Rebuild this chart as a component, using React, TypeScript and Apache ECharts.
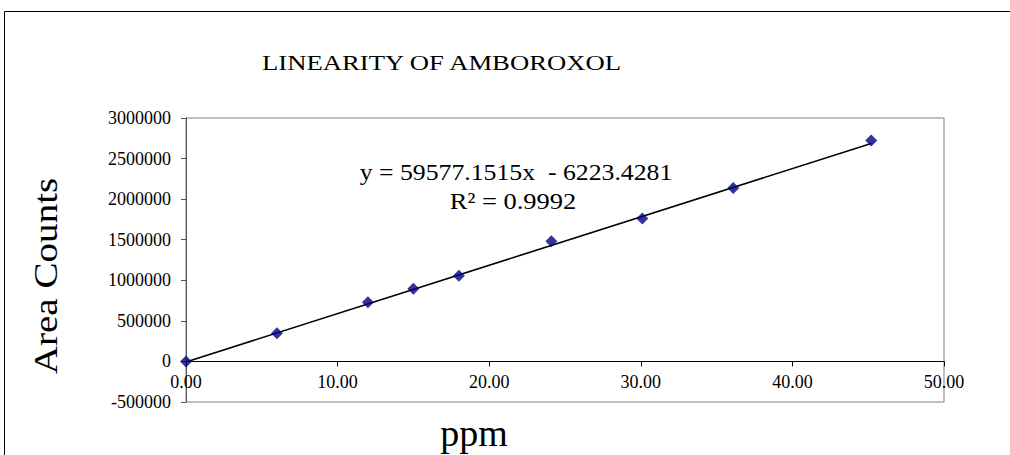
import React, { useEffect, useRef } from "react";
import * as echarts from "echarts";

const PPM = [0, 6.0, 12.0, 15.0, 18.0, 24.1, 30.1, 36.1, 45.2];
const AREA = [0, 348800, 730800, 896000, 1056000, 1482600, 1762000, 2135800, 2723600];

// Linear trend line endpoints (as drawn)
const TREND_X = [0, 45.2];
const TREND_Y = [-6223, 2686700];

const TITLE = "LINEARITY OF AMBOROXOL";
const EQUATION = "y = 59577.1515x  - 6223.4281";
const R_SQUARED = "R\u00B2 = 0.9992";
const X_NAME = "ppm";
const Y_NAME = "Area Counts";

const X_MIN = 0;
const X_MAX = 50;
const X_STEP = 10;
const Y_MIN = -500000;
const Y_MAX = 3000000;
const Y_STEP = 500000;

const FONT = "'Liberation Serif', 'Times New Roman', serif";

const GRID_TOP = 118;
const GRID_BOTTOM = 53;
const CHART_H = 455;

export default function App() {
  const ref = useRef<HTMLDivElement>(null);

  useEffect(() => {
    if (!ref.current) return;
    const chart = echarts.init(ref.current, null, { renderer: "svg" });

    const points = PPM.map((x, i) => [x, AREA[i]]);
    const trend = TREND_X.map((x, i) => [x, TREND_Y[i]]);

    const gridH = CHART_H - GRID_TOP - GRID_BOTTOM;
    // move the x axis (line, ticks, labels) up to the y = 0 level
    const xOffset = -(gridH * (0 - Y_MIN)) / (Y_MAX - Y_MIN);

    chart.setOption({
      animation: false,
      backgroundColor: "#ffffff",
      textStyle: { fontFamily: FONT },
      grid: {
        left: 186,
        top: GRID_TOP,
        right: 66,
        bottom: GRID_BOTTOM,
        show: true,
        borderColor: "#808080",
        borderWidth: 1,
        backgroundColor: "#ffffff",
      },
      xAxis: {
        type: "value",
        min: X_MIN,
        max: X_MAX,
        interval: X_STEP,
        position: "bottom",
        offset: xOffset,
        axisLine: { show: true, onZero: false, lineStyle: { color: "#000000", width: 1 } },
        axisTick: { show: true, inside: false, length: 5, lineStyle: { color: "#000000" } },
        axisLabel: {
          margin: 12,
          fontFamily: FONT,
          fontSize: 18,
          color: "#000000",
          formatter: (v: number) => v.toFixed(2),
        },
        splitLine: { show: false },
      },
      yAxis: {
        type: "value",
        min: Y_MIN,
        max: Y_MAX,
        interval: Y_STEP,
        axisLine: { show: true, onZero: false, lineStyle: { color: "#555555", width: 1 } },
        axisTick: { show: true, inside: false, length: 5, lineStyle: { color: "#555555" } },
        axisLabel: {
          margin: 15,
          fontFamily: FONT,
          fontSize: 18,
          color: "#000000",
          formatter: (v: number) => String(v),
        },
        splitLine: { show: false },
      },
      series: [
        {
          type: "line",
          data: trend,
          symbol: "none",
          lineStyle: { color: "#000000", width: 1.6 },
          z: 2,
        },
        {
          type: "scatter",
          data: points,
          symbol: "diamond",
          symbolSize: 12,
          itemStyle: { color: "#000080" },
          z: 3,
        },
      ],
      graphic: [
        {
          type: "rect",
          shape: { x: 4.5, y: 11.5, width: 1200, height: 700 },
          style: { fill: "none", stroke: "#000000", lineWidth: 1 },
          silent: true,
          z: -10,
        },
        {
          type: "text",
          x: 262,
          y: 63,
          scaleX: 1.27,
          style: {
            text: TITLE,
            fontFamily: FONT,
            fontSize: 21,
            fill: "#000000",
            textAlign: "left",
            textVerticalAlign: "middle",
          },
        },
        {
          type: "text",
          x: 516,
          y: 172,
          scaleX: 1.12,
          style: {
            text: EQUATION,
            fontFamily: FONT,
            fontSize: 23,
            fill: "#000000",
            textAlign: "center",
            textVerticalAlign: "middle",
          },
        },
        {
          type: "text",
          x: 513,
          y: 201,
          scaleX: 1.15,
          style: {
            text: R_SQUARED,
            fontFamily: FONT,
            fontSize: 23,
            fill: "#000000",
            textAlign: "center",
            textVerticalAlign: "middle",
          },
        },
        {
          type: "text",
          x: 45,
          y: 276,
          rotation: Math.PI / 2,
          scaleX: 1.15,
          style: {
            text: Y_NAME,
            fontFamily: FONT,
            fontSize: 34,
            fill: "#000000",
            textAlign: "center",
            textVerticalAlign: "middle",
          },
        },
        {
          type: "text",
          x: 474,
          y: 433,
          style: {
            text: X_NAME,
            fontFamily: FONT,
            fontSize: 38,
            fill: "#000000",
            textAlign: "center",
            textVerticalAlign: "middle",
          },
        },
      ],
    });

    return () => {
      chart.dispose();
    };
  }, []);

  return (
    <div
      ref={ref}
      style={{ position: "fixed", left: 0, top: 0, width: 1010, height: 455 }}
    />
  );
}
